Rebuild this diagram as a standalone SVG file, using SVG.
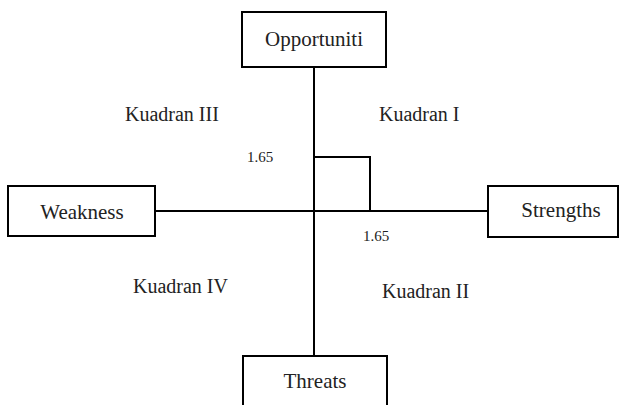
<svg xmlns="http://www.w3.org/2000/svg" width="623" height="405" viewBox="0 0 623 405">
<style>
.box{fill:#fff;stroke:#000;stroke-width:2}
.ln{stroke:#000;stroke-width:2;fill:none}
text{fill:#222;font-family:"Liberation Serif","Times New Roman","DejaVu Serif",serif}
.lbl{font-size:21px;text-anchor:middle}
.q{font-size:20px}
.n{font-size:15px}
</style>
<rect width="623" height="405" fill="#fff"/>
<g id="connectors">
<line class="ln" x1="314" y1="67" x2="314" y2="356"/>
<line class="ln" x1="155" y1="211" x2="488" y2="211"/>
<polyline class="ln" points="314,157 370,157 370,211"/>
</g>
<g id="opportuniti"><rect class="box" x="242" y="12" width="144" height="55"/><text class="lbl" x="314" y="46">Opportuniti</text></g>
<g id="weakness"><rect class="box" x="8" y="186" width="147" height="50"/><text class="lbl" x="82" y="219">Weakness</text></g>
<g id="strengths"><rect class="box" x="488" y="186" width="130" height="51"/><text class="lbl" x="561" y="217">Strengths</text></g>
<g id="threats"><rect class="box" x="243" y="356" width="144" height="55"/><text class="lbl" x="315" y="388">Threats</text></g>
<g id="labels">
<text class="q" x="125" y="121">Kuadran III</text>
<text class="q" x="379" y="121">Kuadran I</text>
<text class="q" x="133" y="293">Kuadran IV</text>
<text class="q" x="382" y="298">Kuadran II</text>
<text class="n" x="247" y="162">1.65</text>
<text class="n" x="363" y="241">1.65</text>
</g>
</svg>
